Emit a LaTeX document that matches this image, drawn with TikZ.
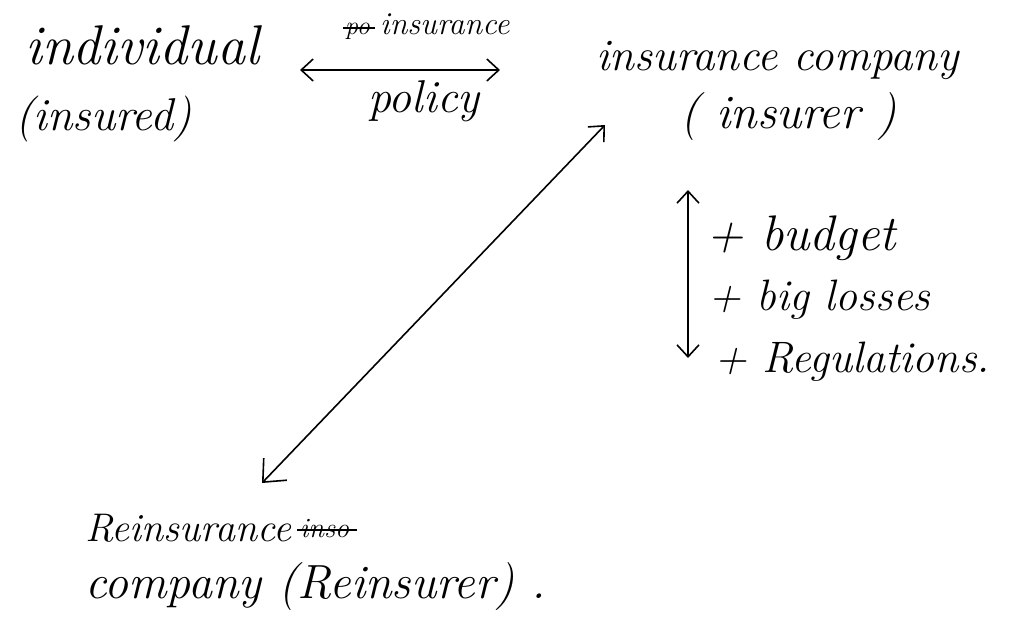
\documentclass[tikz,border=0pt]{standalone}
\usepackage{fontspec}
\usetikzlibrary{arrows.meta}
\newcommand{\hsz}[1]{\fontsize{#1}{#1}\selectfont}
\begin{document}
\begin{tikzpicture}[x=1pt,y=-1pt,
  hand/.style={font=\itshape, inner sep=0pt, anchor=base west},
  conn/.style={line width=1.6pt, {Straight Barb[length=12pt,width=22pt]}-{Straight Barb[length=12pt,width=22pt]}},
  strike/.style={line width=1.8pt}]
\useasboundingbox (0,0) rectangle (1019,621);
\fill[white] (0,0) rectangle (1019,621);
% individual
\node[hand, font=\itshape\hsz{56}] (ind) at (25,64) {individual};
\node[hand, font=\itshape\hsz{46}] (insd) at (15,130) {(insured)};
% policy arrow
\coordinate (pl) at (300,70);
\coordinate (pr) at (500,70);
\draw[conn] (pl) -- (pr);
\node[hand, font=\itshape\hsz{26}] (po) at (345,34) {po};
\draw[strike] (po.base west) ++(-2,-6) -- ++(32,0);
\node[hand, font=\itshape\hsz{32}] (ins) at (380,34) {insurance};
\node[hand, font=\itshape\hsz{46}] (pol) at (368,112) {policy};
% insurance company
\node[hand, font=\itshape\hsz{45}] (ic) at (596,70) {insurance company};
\node[hand, font=\itshape\hsz{48}] (icr) at (680,128) {( insurer )};
% vertical arrow and factors
\coordinate (vt) at (688,190);
\coordinate (vb) at (688,358);
\draw[conn] (vt) -- (vb);
\node[hand, font=\itshape\hsz{50}] (f1) at (706,250) {+ budget};
\node[hand, font=\itshape\hsz{44}] (f2) at (708,310) {+ big losses};
\node[hand, font=\itshape\hsz{44}] (f3) at (714,372) {+ Regulations.};
% diagonal arrow
\coordinate (dt) at (605,125);
\coordinate (db) at (262,483);
\draw[line width=1.6pt, {Straight Barb[length=18pt,width=32pt]}-{Straight Barb[length=12pt,width=22pt]}] (db) -- (dt);
% reinsurance
\node[hand, font=\itshape\hsz{40}] (re) at (85,541) {Reinsurance};
\node[hand, font=\itshape\hsz{28}] (inso) at (300,537) {inso};
\draw[strike] (inso.base west) ++(-3,-7) -- ++(60,0);
\node[hand, font=\itshape\hsz{48}] (rc) at (85,598) {company (Reinsurer) .};
\end{tikzpicture}
\end{document}
